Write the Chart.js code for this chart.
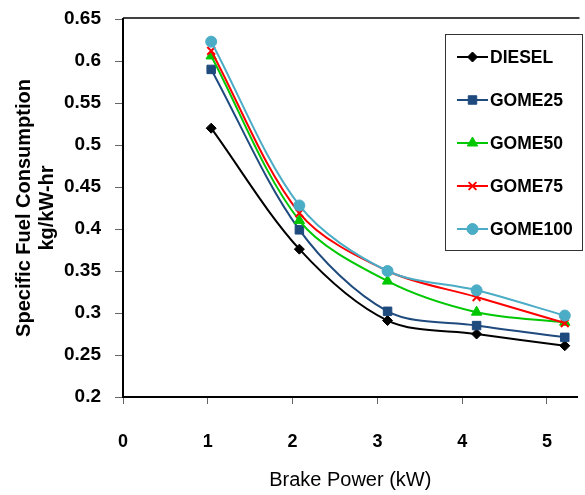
<!DOCTYPE html>
<html>
<head>
<meta charset="utf-8">
<script src="https://cdn.jsdelivr.net/npm/chart.js@4/dist/chart.umd.min.js"></script>
<style>
  html, body { margin: 0; padding: 0; background: #fff; overflow: hidden; }
  #wrap { width: 585px; height: 495px; }
</style>
</head>
<body>
<div id="wrap"><canvas id="sfc" width="585" height="495"></canvas></div>
<script>
// values
const power   = [1.04, 2.08, 3.12, 4.17, 5.21];
const diesel  = [0.520, 0.376, 0.291, 0.275, 0.261];
const gome25  = [0.590, 0.399, 0.302, 0.285, 0.271];
const gome50  = [0.606, 0.410, 0.338, 0.301, 0.289];
const gome75  = [0.612, 0.419, 0.350, 0.319, 0.288];
const gome100 = [0.623, 0.428, 0.350, 0.327, 0.297];

const seriesNames = ["DIESEL", "GOME25", "GOME50", "GOME75", "GOME100"];
const yTicks = { min: 0.2, max: 0.65, step: 0.05 };
const xTicks = { min: 0, max: 5.36, step: 1 };

const FONT = "'Liberation Sans', Arial, sans-serif";

const styles = [
  { color: "#000000", point: "rectRot",  radius: 5,   width: 1 },
  { color: "#1F4A7E", point: "rect",     radius: 6,   width: 1 },
  { color: "#00C800", point: "triangle", radius: 6,   width: 1 },
  { color: "#FF0000", point: "crossRot", radius: 5.5, width: 2 },
  { color: "#4BACC6", point: "circle",   radius: 5.5, width: 1 }
];

const allValues = [diesel, gome25, gome50, gome75, gome100];

const datasets = allValues.map((vals, i) => ({
  label: seriesNames[i],
  data: vals.map((v, k) => ({ x: power[k], y: v })),
  borderColor: styles[i].color,
  backgroundColor: styles[i].color,
  borderWidth: 2,
  pointStyle: styles[i].point,
  pointRadius: styles[i].radius,
  pointBorderWidth: styles[i].width,
  tension: 0.32,
  order: allValues.length - i
}));

// legend box drawn inside the plot, Excel style
const boxLegend = {
  id: "boxLegend",
  afterDraw(chart) {
    const ctx = chart.ctx;
    const a = chart.chartArea;
    ctx.save();
    // plot-area top border
    ctx.strokeStyle = "#000";
    ctx.lineWidth = 1.5;
    ctx.beginPath();
    ctx.moveTo(a.left, a.top - 1);
    ctx.lineTo(a.right + 2, a.top - 1);
    ctx.stroke();

    const bx = 445.5, by = 34.5, bw = 137, bh = 216;
    ctx.fillStyle = "#fff";
    ctx.fillRect(bx, by, bw, bh);
    ctx.strokeStyle = "#333";
    ctx.lineWidth = 1;
    ctx.strokeRect(bx, by, bw, bh);

    chart.data.datasets.forEach((ds, i) => {
      const y = 57 + i * 43;
      ctx.strokeStyle = ds.borderColor;
      ctx.fillStyle = ds.backgroundColor;
      ctx.lineWidth = 2;
      ctx.beginPath();
      ctx.moveTo(457, y);
      ctx.lineTo(488, y);
      ctx.stroke();
      ctx.lineWidth = ds.pointBorderWidth;
      Chart.helpers.drawPoint(ctx, {
        pointStyle: ds.pointStyle,
        radius: ds.pointRadius,
        borderWidth: ds.pointBorderWidth,
        rotation: 0
      }, 472.5, y);
      ctx.fillStyle = "#000";
      ctx.font = "bold 17.5px " + FONT;
      ctx.textAlign = "left";
      ctx.textBaseline = "middle";
      ctx.fillText(ds.label, 490, y + 1);
    });
    ctx.restore();
  }
};

new Chart(document.getElementById("sfc"), {
  type: "line",
  data: { datasets },
  plugins: [boxLegend],
  options: {
    responsive: false,
    animation: false,
    layout: { padding: { top: 19, left: 0, right: 1, bottom: 0 } },
    plugins: { legend: { display: false }, tooltip: { enabled: false } },
    scales: {
      x: {
        type: "linear",
        min: xTicks.min,
        max: xTicks.max,
        ticks: {
          stepSize: xTicks.step,
          includeBounds: false,
          autoSkip: false,
          color: "#000",
          font: { family: FONT, size: 18, weight: "bold" },
          padding: 27
        },
        afterFit: s => { s.height = 98; s.paddingLeft = 0; s.paddingRight = 0; },
        grid: { drawOnChartArea: false, drawTicks: true, tickLength: 7, color: "#666" },
        border: { color: "#000", width: 2 },
        title: {
          display: true,
          text: "Brake Power (kW)",
          color: "#000",
          font: { family: FONT, size: 20 },
          padding: { top: 0, bottom: 3 }
        }
      },
      y: {
        min: yTicks.min,
        max: yTicks.max,
        ticks: {
          stepSize: yTicks.step,
          color: "#000",
          font: { family: FONT, size: 19, weight: "bold" },
          padding: 14,
          callback: v => String(parseFloat(Number(v).toFixed(2)))
        },
        afterFit: s => { s.width = 123; s.paddingTop = 0; s.paddingBottom = 0; },
        grid: { drawOnChartArea: false, drawTicks: true, tickLength: 8, color: "#666" },
        border: { color: "#000", width: 2 },
        title: {
          display: true,
          text: ["Specific Fuel Consumption", "kg/kW-hr"],
          color: "#000",
          font: { family: FONT, size: 20, weight: "bold", lineHeight: 1.15 },
          padding: { top: 13, bottom: 0 }
        }
      }
    }
  }
});
</script>
</body>
</html>
